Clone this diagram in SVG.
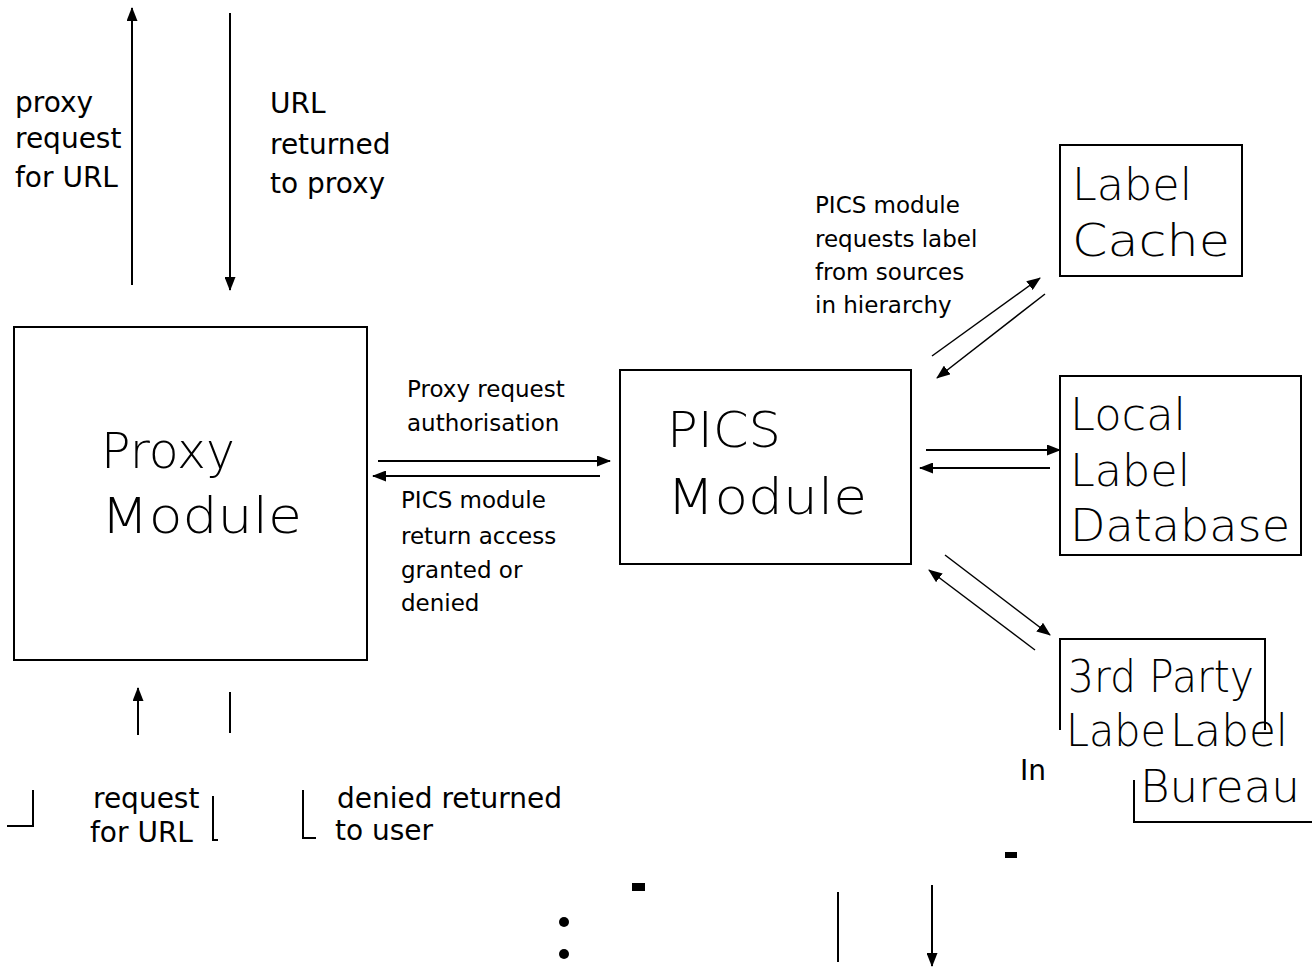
<svg xmlns="http://www.w3.org/2000/svg" width="1312" height="970" viewBox="0 0 1312 970">
<style>
.box{fill:none;stroke:#000;stroke-width:2}
.ln{stroke:#000;stroke-width:2;fill:none}
.thin{stroke:#000;stroke-width:1.5;fill:none}
.t{font-family:"DejaVu Sans","Liberation Sans",sans-serif;fill:#000;font-weight:300}
.n{font-weight:400}
.big{font-size:50px}
.mid{font-size:44px}
.lbl{font-size:28px}
.sm{font-size:23px}
</style>
<defs>
<marker id="ah" viewBox="0 0 14 11" refX="13" refY="5.5" markerWidth="14" markerHeight="11" orient="auto" markerUnits="userSpaceOnUse">
<path d="M0,0 L14,5.5 L0,11 z" fill="#000"/>
</marker>
</defs>
<rect width="1312" height="970" fill="#fff"/>

<g id="proxy-module">
<rect class="box" x="14" y="327" width="353" height="333"/>
<text class="t big" x="101" y="468" textLength="134" lengthAdjust="spacingAndGlyphs">Proxy</text>
<text class="t big" x="101" y="533" textLength="201" lengthAdjust="spacingAndGlyphs">Module</text>
</g>

<g id="pics-module">
<rect class="box" x="620" y="370" width="291" height="194"/>
<text class="t big" x="667" y="447" textLength="114" lengthAdjust="spacingAndGlyphs">PICS</text>
<text class="t big" x="667" y="514" textLength="200" lengthAdjust="spacingAndGlyphs">Module</text>
</g>

<g id="label-cache">
<rect class="box" x="1060" y="145" width="182" height="131"/>
<text class="t mid" x="1072" y="200" textLength="120" lengthAdjust="spacingAndGlyphs">Label</text>
<text class="t mid" x="1072" y="256" textLength="158" lengthAdjust="spacingAndGlyphs">Cache</text>
</g>

<g id="local-label-database">
<rect class="box" x="1060" y="376" width="241" height="179"/>
<text class="t mid" x="1070" y="430" textLength="116" lengthAdjust="spacingAndGlyphs">Local</text>
<text class="t mid" x="1070" y="486" textLength="120" lengthAdjust="spacingAndGlyphs">Label</text>
<text class="t mid" x="1070" y="541" textLength="220" lengthAdjust="spacingAndGlyphs">Database</text>
</g>

<g id="third-party-bureau">
<path class="ln" d="M1060,730 V639 H1265 V730"/>
<text class="t mid" x="1068" y="692" textLength="186" lengthAdjust="spacingAndGlyphs">3rd Party</text>
<text class="t mid" x="1066" y="746" textLength="100" lengthAdjust="spacingAndGlyphs">Labe</text>
<text class="t mid" x="1170" y="746" textLength="118" lengthAdjust="spacingAndGlyphs">Label</text>
<text class="t n lbl" x="1020" y="780">In</text>
<path class="ln" d="M1134,780 V822 H1312"/>
<text class="t mid" x="1140" y="802" textLength="160" lengthAdjust="spacingAndGlyphs">Bureau</text>
</g>

<g id="connectors">
<line class="ln" x1="132" y1="285" x2="132" y2="8" marker-end="url(#ah)"/>
<line class="ln" x1="230" y1="13" x2="230" y2="290" marker-end="url(#ah)"/>
<line class="ln" x1="378" y1="461" x2="610" y2="461" marker-end="url(#ah)"/>
<line class="ln" x1="600" y1="476" x2="373" y2="476" marker-end="url(#ah)"/>
<line class="thin" x1="932" y1="356" x2="1040" y2="278" marker-end="url(#ah)"/>
<line class="thin" x1="1045" y1="294" x2="937" y2="378" marker-end="url(#ah)"/>
<line class="ln" x1="926" y1="450" x2="1060" y2="450" marker-end="url(#ah)"/>
<line class="ln" x1="1050" y1="468" x2="920" y2="468" marker-end="url(#ah)"/>
<line class="thin" x1="945" y1="555" x2="1050" y2="635" marker-end="url(#ah)"/>
<line class="thin" x1="1035" y1="650" x2="929" y2="570" marker-end="url(#ah)"/>
<line class="ln" x1="138" y1="735" x2="138" y2="688" marker-end="url(#ah)"/>
<line class="ln" x1="230" y1="692" x2="230" y2="733"/>
<path class="ln" d="M7,826 H33 V790"/>
<path class="ln" d="M213,796 V840 H218"/>
<path class="ln" d="M303,790 V838 H316"/>
<line class="ln" x1="838" y1="892" x2="838" y2="962"/>
<line class="ln" x1="932" y1="885" x2="932" y2="966" marker-end="url(#ah)"/>
<circle cx="564" cy="922" r="5" fill="#000"/>
<circle cx="564" cy="954" r="5" fill="#000"/>
<rect x="632" y="883" width="13" height="8" fill="#000"/>
<rect x="1005" y="852" width="12" height="6" fill="#000"/>
</g>

<g id="labels">
<text class="t n lbl" x="15" y="112">proxy</text>
<text class="t n lbl" x="15" y="148">request</text>
<text class="t n lbl" x="15" y="187">for URL</text>
<text class="t n lbl" x="270" y="113">URL</text>
<text class="t n lbl" x="270" y="154">returned</text>
<text class="t n lbl" x="270" y="193">to proxy</text>
<text class="t n sm" x="815" y="213">PICS module</text>
<text class="t n sm" x="815" y="247">requests label</text>
<text class="t n sm" x="815" y="280">from sources</text>
<text class="t n sm" x="815" y="313">in hierarchy</text>
<text class="t n sm" x="407" y="397">Proxy request</text>
<text class="t n sm" x="407" y="431">authorisation</text>
<text class="t n sm" x="401" y="508">PICS module</text>
<text class="t n sm" x="401" y="544">return access</text>
<text class="t n sm" x="401" y="578">granted or</text>
<text class="t n sm" x="401" y="611">denied</text>
<text class="t n lbl" x="93" y="808">request</text>
<text class="t n lbl" x="90" y="842">for URL</text>
<text class="t n lbl" x="337" y="808">denied returned</text>
<text class="t n lbl" x="335" y="840">to user</text>
</g>
</svg>
